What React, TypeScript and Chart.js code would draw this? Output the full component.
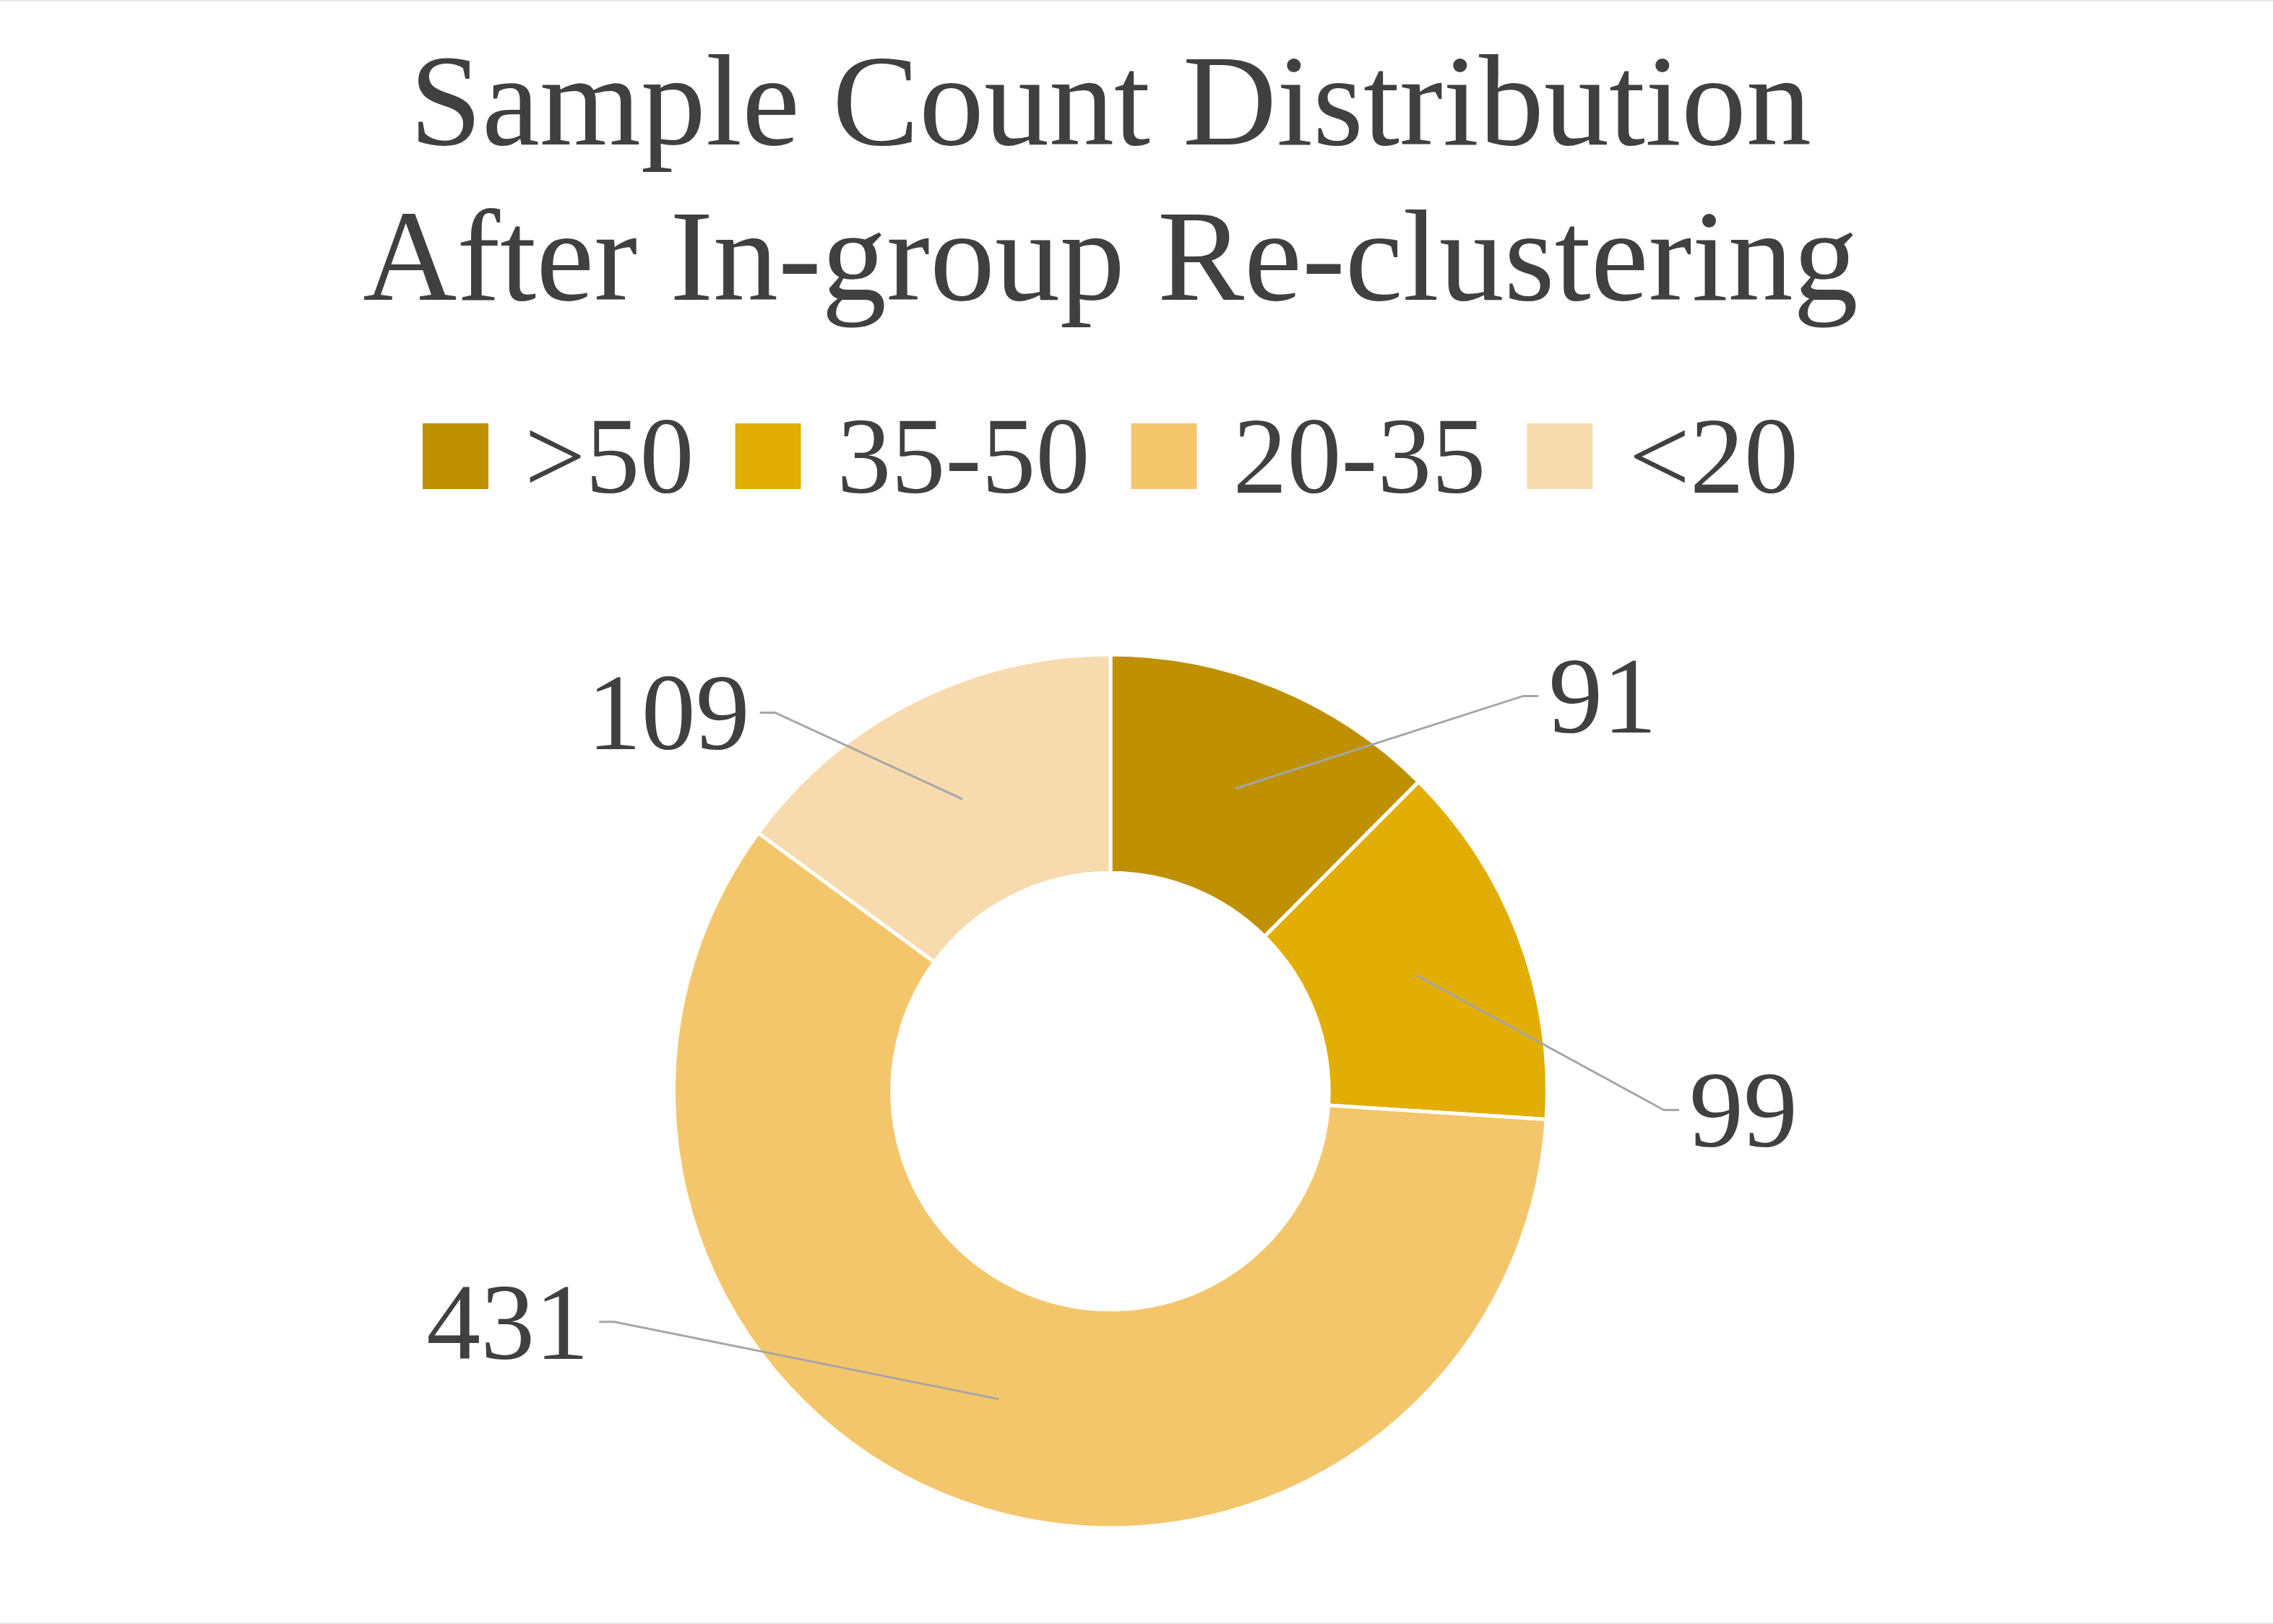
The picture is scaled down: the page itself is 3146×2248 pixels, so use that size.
import React, { useEffect, useRef } from "react";
import { Chart, registerables } from "chart.js";

Chart.register(...registerables);

// ---- data ----
const categories = [">50", "35-50", "20-35", "<20"];
const sampleCounts = [91, 99, 431, 109];
const sliceColors = ["#BF9000", "#E2AE03", "#F4C66B", "#F7DBAE"];
const titleLines = ["Sample Count Distribution", "After In-group Re-clustering"];

// Where each value label's leader line bends, as multiples of the outer
// radius measured from the ring centre.
const labelAnchors: [number, number][] = [
  [0.945, -0.905],
  [1.267, 0.043],
  [-1.136, 0.528],
  [-0.768, -0.867],
];

const W = 3146;
const H = 2248;
const SERIF = "'Liberation Serif', 'Times New Roman', serif";
const INK = "#404040";
const LEADER = "#A6A6A6";
const TITLE_SIZE = 180;
const TEXT_SIZE = 150;

// Light frame rules along the top and bottom edges
const framePlugin = {
  id: "frame",
  beforeDraw(chart: any) {
    const ctx = chart.ctx;
    ctx.save();
    ctx.fillStyle = "#FFFFFF";
    ctx.fillRect(0, 0, chart.width, chart.height);
    ctx.fillStyle = "#E6E6E6";
    ctx.fillRect(0, 0, chart.width, 2);
    ctx.fillRect(0, chart.height - 2, chart.width, 2);
    ctx.restore();
  },
};

// Two-line title and a single-row legend, centred over the ring
const headerPlugin = {
  id: "header",
  afterDraw(chart: any) {
    const ctx = chart.ctx;
    const area = chart.chartArea;
    const cx = (area.left + area.right) / 2;
    const colors = chart.data.datasets[0].backgroundColor as string[];
    const labels = chart.data.labels as string[];
    ctx.save();
    ctx.fillStyle = INK;
    ctx.textAlign = "center";
    ctx.textBaseline = "alphabetic";
    ctx.font = `${TITLE_SIZE}px ${SERIF}`;
    titleLines.forEach((t, i) => ctx.fillText(t, cx, 200 + i * 215));

    ctx.font = `${TEXT_SIZE}px ${SERIF}`;
    const box = 91;
    const boxGap = 50;
    const itemGap = 57;
    const widths = labels.map((c) => ctx.measureText(c).width);
    const total =
      widths.reduce((s, w) => s + box + boxGap + w, 0) + itemGap * (labels.length - 1);
    let x = cx - total / 2;
    ctx.textAlign = "left";
    labels.forEach((c, i) => {
      ctx.fillStyle = colors[i];
      ctx.fillRect(x, 586, box, box);
      ctx.fillStyle = INK;
      ctx.fillText(c, x + box + boxGap, 682);
      x += box + boxGap + widths[i] + itemGap;
    });
    ctx.restore();
  },
};

// Value labels joined to their slices by bent leader lines
const leaderLabelPlugin = {
  id: "leaderLabels",
  afterDatasetsDraw(chart: any) {
    const ctx = chart.ctx;
    const meta = chart.getDatasetMeta(0);
    const values = chart.data.datasets[0].data as number[];
    ctx.save();
    meta.data.forEach((arc: any, i: number) => {
      const { x, y, outerRadius } = arc.getProps(["x", "y", "outerRadius"], true);
      const start = arc.getCenterPoint(true);
      const [ax, ay] = labelAnchors[i];
      const ex = x + ax * outerRadius;
      const ey = y + ay * outerRadius;
      const dir = ax >= 0 ? 1 : -1;
      const tx = ex + dir * 21;
      ctx.strokeStyle = LEADER;
      ctx.lineWidth = 3;
      ctx.lineJoin = "miter";
      ctx.beginPath();
      ctx.moveTo(start.x, start.y);
      ctx.lineTo(ex, ey);
      ctx.lineTo(tx, ey);
      ctx.stroke();
      ctx.fillStyle = INK;
      ctx.font = `${TEXT_SIZE}px ${SERIF}`;
      ctx.textAlign = dir > 0 ? "left" : "right";
      ctx.textBaseline = "alphabetic";
      ctx.fillText(String(values[i]), tx + dir * 14, ey + 0.34 * TEXT_SIZE);
    });
    ctx.restore();
  },
};

export default function App() {
  const canvasRef = useRef<HTMLCanvasElement | null>(null);

  useEffect(() => {
    const canvas = canvasRef.current;
    if (!canvas) return;
    const chart = new Chart(canvas, {
      type: "doughnut",
      data: {
        labels: categories,
        datasets: [
          {
            data: sampleCounts,
            backgroundColor: sliceColors,
            borderColor: "#FFFFFF",
            borderWidth: 5,
            hoverOffset: 0,
          },
        ],
      },
      options: {
        responsive: false,
        animation: false,
        devicePixelRatio: 1,
        radius: 604.5,
        cutout: "50%",
        rotation: 0,
        events: [],
        layout: { padding: { left: 0, right: 72, top: 850, bottom: 77 } },
        plugins: {
          legend: { display: false },
          title: { display: false },
          tooltip: { enabled: false },
        },
      } as any,
      plugins: [framePlugin, leaderLabelPlugin, headerPlugin],
    });
    return () => chart.destroy();
  }, []);

  return (
    <div style={{ position: "fixed", left: 0, top: 0, width: W, height: H, background: "#FFFFFF" }}>
      <canvas ref={canvasRef} width={W} height={H} style={{ display: "block" }} />
    </div>
  );
}
